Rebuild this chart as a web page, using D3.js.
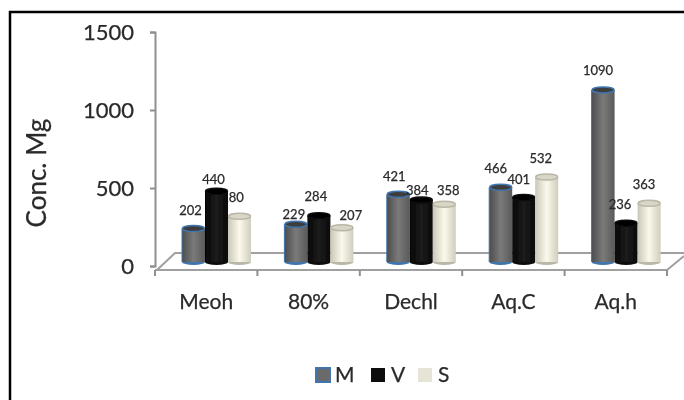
<!DOCTYPE html>
<html>
<head>
<meta charset="utf-8">
<script src="https://cdn.jsdelivr.net/npm/d3@7"></script>
<style>
  html, body { margin: 0; background: #fff; }
  text { font-family: Lato, "Open Sans", sans-serif; fill: #2a2a2a; stroke: #2a2a2a; stroke-width: 0.25px; }
</style>
</head>
<body>
<div id="chart"></div>
<script>
const categories = ["Meoh", "80%", "Dechl", "Aq.C", "Aq.h"];
const seriesNames = ["M", "V", "S"];
const valuesM = [202, 229, 421, 466, 1090];
const valuesV = [440, 284, 384, 401, 236];
const valuesS = [280, 207, 358, 532, 363];
const yTicks = [0, 500, 1000, 1500];

const seriesValues = [valuesM, valuesV, valuesS];

// hand placed data labels, the original has them dragged around [dx, dy] per series
const labelNudge = [
  [[-3, -18], [-2, -10], [-4, -18], [-5, -19], [-5, -20]],
  [[-3, -12], [-3, -19], [-4, -10], [-5, -18], [-6, -19]],
  [[-7, -19], [9, -12], [4, -14], [-6, -19], [-5, -19]]
];

const width = 684;
const height = 400;

const svg = d3.select("#chart")
  .append("svg")
  .attr("width", width)
  .attr("height", height)
  .style("display", "block");

const defs = svg.append("defs");
defs.append("filter").attr("id", "soft")
  .append("feGaussianBlur").attr("stdDeviation", 0.65);

const stops = {
  M: ["#4c4c4c", "#7a7a7a", "#5a5a5a"],
  V: ["#050505", "#1c1c1c", "#0a0a0a"],
  S: ["#c9c7b6", "#fbf9ec", "#cfcdbc"]
};
seriesNames.forEach(s => {
  const g = defs.append("linearGradient").attr("id", "grad" + s);
  stops[s].forEach((c, i) => {
    g.append("stop").attr("offset", i / 2).attr("stop-color", c);
  });
});

const outline = { M: "#3f74ad", V: "#0a0a0a", S: "#b9b7a6" };
const topFill = { M: "#3d3d3d", V: "#000", S: "#d8d6c6" };
const swatch = { M: "#6b6b6b", V: "#0c0c0c", S: "#e6e4d6" };

// frame, only top and left show in the picture
svg.append("path")
  .attr("d", `M10,${height} V12 H${width}`)
  .attr("fill", "none")
  .attr("stroke", "#000")
  .attr("stroke-width", 2.5);

const root = svg.append("g").attr("filter", "url(#soft)");

const x0 = d3.scaleBand().domain(categories).range([155, 667]);
const x1 = d3.scaleBand().domain(seriesNames).range([0, 69]);
const y = d3.scaleLinear().domain([0, 1500]).range([266, 32]);

const lift = 6;

// 3d floor
const floorY = 270;
const backY = 253;
root.append("path")
  .attr("d", `M157,${floorY} L175,${backY} H684 M667,${floorY} L684,${backY + 3}`)
  .attr("fill", "none")
  .attr("stroke", "#a0a0a0")
  .attr("stroke-width", 2);

const yAxis = d3.axisLeft(y).tickValues(yTicks).tickSize(5).tickPadding(16).tickFormat(d3.format("d"));
const yG = root.append("g").attr("transform", "translate(155,0)").call(yAxis);
yG.select(".domain").attr("stroke", "#8f8f8f").attr("stroke-width", 2);
yG.selectAll(".tick line").attr("stroke", "#8f8f8f").attr("stroke-width", 2);
yG.selectAll(".tick text").attr("font-size", 22);

const xAxis = d3.axisBottom(x0).tickSize(0).tickPadding(0);
const xG = root.append("g").attr("transform", `translate(0,${floorY})`).call(xAxis);
xG.select(".domain").attr("d", "M155,0 H667").attr("stroke", "#a0a0a0").attr("stroke-width", 2);
xG.selectAll(".tick line").remove();
xG.selectAll(".tick text").attr("y", 24).attr("font-size", 21);
xG.selectAll(".divider")
  .data(categories.concat("end"))
  .enter().append("line")
  .attr("x1", (d, i) => 155 + i * x0.step())
  .attr("x2", (d, i) => 155 + i * x0.step())
  .attr("y1", 0).attr("y2", 6)
  .attr("stroke", "#8f8f8f").attr("stroke-width", 2);

root.append("text")
  .attr("transform", "translate(46,173) rotate(-90)")
  .attr("text-anchor", "middle")
  .attr("font-size", 26)
  .text("Conc. Mg");

function barX(catIndex, s) {
  return x0(categories[catIndex]) + 27 + x1(s);
}

function labelPos(s, i) {
  const si = seriesNames.indexOf(s);
  const v = seriesValues[si][i];
  const n = labelNudge[si][i];
  return [barX(i, s) + x1.bandwidth() / 2 + n[0], y(v) - lift + n[1]];
}

function drawLabels(s) {
  root.append("g").selectAll("text")
    .data(seriesValues[seriesNames.indexOf(s)])
    .enter().append("text")
    .attr("x", (d, i) => labelPos(s, i)[0])
    .attr("y", (d, i) => labelPos(s, i)[1])
    .attr("dy", "0.35em")
    .attr("text-anchor", "middle")
    .attr("font-size", 13)
    .text(d => d);
}

// the S labels sit behind the bars, that is why 280 loses its first digit
drawLabels("S");

seriesNames.forEach((s, si) => {
  const w = x1.bandwidth();
  const bars = root.append("g").selectAll("g")
    .data(seriesValues[si])
    .enter().append("g");
  const base = y(0) - 4;

  bars.append("ellipse")
    .attr("cx", (d, i) => barX(i, s) + w / 2)
    .attr("cy", base)
    .attr("rx", w / 2).attr("ry", 3)
    .attr("fill", outline[s]);
  bars.append("rect")
    .attr("x", (d, i) => barX(i, s))
    .attr("y", d => y(d) - lift)
    .attr("width", w)
    .attr("height", d => base - y(d) + lift)
    .attr("fill", `url(#grad${s})`);
  bars.append("ellipse")
    .attr("cx", (d, i) => barX(i, s) + w / 2)
    .attr("cy", d => y(d) - lift)
    .attr("rx", w / 2 - 0.5).attr("ry", 3)
    .attr("fill", topFill[s])
    .attr("stroke", outline[s])
    .attr("stroke-width", 1.5);
  if (s === "M") {
    bars.append("path")
      .attr("d", (d, i) => {
        const bx = barX(i, s);
        return `M${bx},${y(d) - lift} V${base}`;
      })
      .attr("stroke", outline[s])
      .attr("stroke-width", 1);
  }
});

drawLabels("M");
drawLabels("V");

// legend
const legendX = { M: 315, V: 371, S: 418 };
const legend = root.append("g");
seriesNames.forEach(s => {
  legend.append("rect")
    .attr("x", legendX[s] + (s === "M" ? 1 : 0))
    .attr("y", 368)
    .attr("width", 14).attr("height", 14)
    .attr("fill", swatch[s])
    .attr("stroke", s === "M" ? outline.M : "none")
    .attr("stroke-width", 2);
  legend.append("text")
    .attr("x", legendX[s] + 20)
    .attr("y", 375)
    .attr("dy", "0.35em")
    .attr("font-size", 21)
    .text(s);
});
</script>
</body>
</html>
